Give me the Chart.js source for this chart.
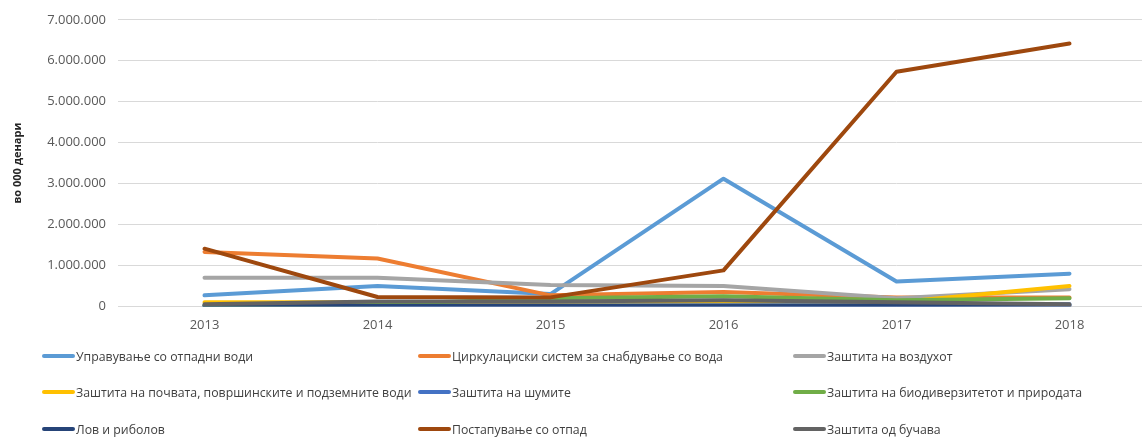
<!DOCTYPE html>
<html>
<head>
<meta charset="utf-8">
<script src="https://cdn.jsdelivr.net/npm/chart.js@4/dist/chart.umd.min.js"></script>
<style>
  html, body { margin: 0; padding: 0; background: #fff; overflow: hidden; }
  #wrap { position: relative; width: 1156px; height: 437px; }
  #chartBox { position: absolute; left: 0; top: 0; width: 1156px; height: 336px; }
  #legend { position: absolute; left: 0; top: 0; width: 1142px; height: 437px; font-family: "Open Sans", sans-serif; font-size: 12.3px; color: #404040; }
  .item { position: absolute; display: flex; align-items: center; white-space: nowrap; height: 20px; }
  .swatch { width: 33px; height: 4px; border-radius: 2px; margin-right: 1px; }
</style>
</head>
<body>
<div id="wrap">
  <div id="chartBox"><canvas id="chart"></canvas></div>
  <div id="legend"></div>
</div>
<script>
const years = ['2013', '2014', '2015', '2016', '2017', '2018'];

const seriesNames = [
  'Управување со отпадни води',
  'Циркулациски систем за снабдување со вода',
  'Заштита на воздухот',
  'Заштита на почвата, површинските и подземните води',
  'Заштита на шумите',
  'Заштита на биодиверзитетот и природата',
  'Лов и риболов',
  'Постапување со отпад',
  'Заштита од бучава'
];

// во 000 денари
const wasteWater   = [270000, 500000, 300000, 3120000, 610000, 800000];
const waterSupply  = [1330000, 1170000, 270000, 350000, 220000, 220000];
const air          = [700000, 700000, 520000, 500000, 200000, 420000];
const soilWater    = [100000, 100000, 60000, 100000, 100000, 500000];
const forests      = [20000, 20000, 20000, 30000, 30000, 50000];
const biodiversity = [30000, 50000, 200000, 250000, 150000, 200000];
const hunting      = [10000, 10000, 10000, 10000, 10000, 20000];
const waste        = [1410000, 230000, 220000, 880000, 5730000, 6420000];
const noise        = [50000, 120000, 120000, 150000, 100000, 50000];

const seriesValues = [wasteWater, waterSupply, air, soilWater, forests, biodiversity, hunting, waste, noise];
const colors = ['#5B9BD5', '#ED7D31', '#A5A5A5', '#FFC000', '#4472C4', '#70AD47', '#264478', '#9E480E', '#636363'];
const yTicks = [0, 1000000, 2000000, 3000000, 4000000, 5000000, 6000000, 7000000];

const fmt = v => v === 0 ? '0' : String(v).replace(/\B(?=(\d{3})+(?!\d))/g, '.');

const datasets = seriesNames.map((name, i) => ({
  label: name,
  data: seriesValues[i],
  borderColor: colors[i],
  backgroundColor: colors[i],
  borderWidth: 4,
  pointRadius: 0,
  tension: 0,
  borderCapStyle: 'round',
  borderJoinStyle: 'round',
  order: seriesNames.length - i
}));

const ctx = document.getElementById('chart');
const chart = new Chart(ctx, {
  type: 'line',
  data: { labels: years, datasets: datasets },
  options: {
    responsive: true,
    maintainAspectRatio: false,
    animation: false,
    layout: { padding: { top: 12, right: 0, left: 0, bottom: 0 } },
    plugins: {
      legend: { display: false },
      tooltip: { enabled: false }
    },
    scales: {
      x: {
        offset: true,
        grid: { display: false },
        border: { display: false },
        ticks: { color: '#595959', font: { family: 'Open Sans', size: 13 }, padding: 3 }
      },
      y: {
        min: 0,
        max: 7000000,
        afterBuildTicks: s => { s.ticks = yTicks.map(v => ({ value: v })); },
        afterFit: s => { s.width = 118; },
        grid: { color: '#D9D9D9', lineWidth: 1, drawTicks: false },
        border: { display: false },
        ticks: { color: '#595959', font: { family: 'Open Sans', size: 13 }, padding: 12, callback: v => fmt(v) },
        title: {
          display: true,
          text: 'во 000 денари',
          color: '#262626',
          font: { family: 'Open Sans', size: 11, weight: 'bold' },
          padding: { top: 11, bottom: 0 }
        }
      }
    }
  }
});

// legend in three columns, like the original
const colLeft = [42, 418, 793];
const rowMid = [356, 392, 429];
const legendBox = document.getElementById('legend');
chart.data.datasets.forEach((ds, i) => {
  const el = document.createElement('div');
  el.className = 'item';
  el.style.left = colLeft[i % 3] + 'px';
  el.style.top = (rowMid[Math.floor(i / 3)] - 10) + 'px';
  const sw = document.createElement('span');
  sw.className = 'swatch';
  sw.style.background = ds.borderColor;
  const tx = document.createElement('span');
  tx.textContent = ds.label;
  el.appendChild(sw);
  el.appendChild(tx);
  legendBox.appendChild(el);
});
</script>
</body>
</html>
